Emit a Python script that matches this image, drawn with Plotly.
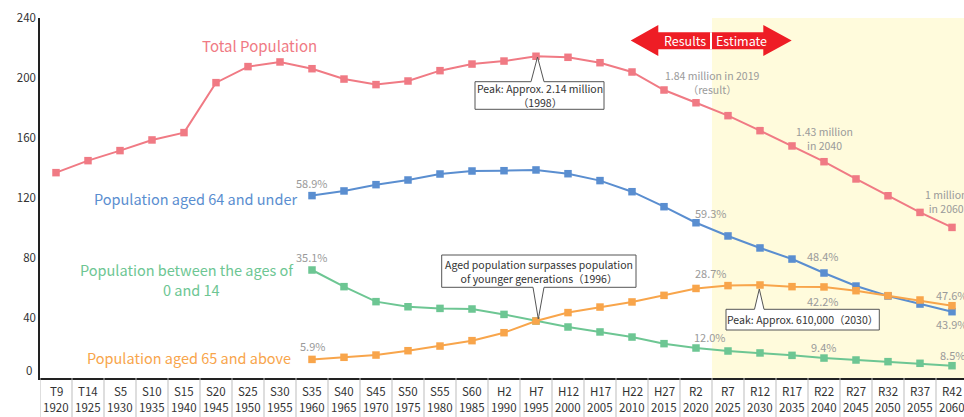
import plotly.graph_objects as go

# ---------------- data ----------------
years = [1920, 1925, 1930, 1935, 1940, 1945, 1950, 1955, 1960, 1965, 1970, 1975, 1980, 1985,
         1990, 1995, 2000, 2005, 2010, 2015, 2020, 2025, 2030, 2035, 2040, 2045, 2050, 2055, 2060]
eras = ["T9", "T14", "S5", "S10", "S15", "S20", "S25", "S30", "S35", "S40", "S45", "S50", "S55", "S60",
        "H2", "H7", "H12", "H17", "H22", "H27", "R2", "R7", "R12", "R17", "R22", "R27", "R32", "R37", "R42"]

total = [136.9, 144.9, 151.6, 158.7, 163.6, 196.9, 207.6, 210.7, 206.2, 199.3, 195.6, 198.0, 204.9, 209.3,
         211.3, 214.5, 213.8, 210.2, 204.0, 192.0, 183.5, 174.9, 164.9, 154.7, 144.2, 132.7, 121.5, 110.4, 100.4]

sub_years = years[8:]  # 1960 onward
under64 = [121.6, 124.7, 128.9, 132.0, 136.0, 138.0, 138.2, 138.7, 136.2, 131.6, 124.2, 114.2, 103.5,
           94.7, 86.7, 79.3, 70.0, 61.3, 54.7, 49.3, 44.2]
age0_14 = [72.0, 60.9, 50.9, 47.5, 46.4, 46.0, 42.4, 38.0, 34.0, 30.7, 27.3, 22.9, 20.0,
           18.0, 16.7, 15.1, 13.3, 12.0, 10.9, 9.8, 8.2]
over65 = [12.4, 13.8, 15.3, 18.2, 21.3, 24.9, 30.2, 38.0, 43.6, 47.3, 50.7, 55.1, 59.7,
          61.6, 62.0, 60.9, 60.7, 58.2, 54.9, 52.0, 48.2]

y_ticks = [0, 40, 80, 120, 160, 200, 240]

# ---------------- styling ----------------
RED = "#F07A84"
BLUE = "#5A8ED0"
GREEN = "#6DC693"
ORANGE = "#F8A54B"
GRAY = "#9A9A9A"
FONT = "Noto Sans CJK JP"

W, H = 964, 417
L, R, T, B = 40, 0, 18, 39
PH = 360.0
X0 = 1917.5
CELL = 32.0
XMAX = X0 + (W - L - R) / CELL * 5


def px2x(px):
    return X0 + (px - L) / CELL * 5


def py2y(py):
    return (378 - py) / 1.5


fig = go.Figure()

for name, xs, ys, col in [("Total Population", years, total, RED),
                          ("Population aged 64 and under", sub_years, under64, BLUE),
                          ("Population between the ages of 0 and 14", sub_years, age0_14, GREEN),
                          ("Population aged 65 and above", sub_years, over65, ORANGE)]:
    fig.add_trace(go.Scatter(x=xs, y=ys, mode="lines+markers", name=name,
                             line=dict(color=col, width=2),
                             marker=dict(symbol="square", size=7.5, color=col),
                             showlegend=False, hoverinfo="x+y"))

shapes = []
# estimate region
shapes.append(dict(type="rect", xref="x", yref="y", x0=2022.5, x1=2075, y0=0, y1=241.3,
                   fillcolor="#FFFBDC", line=dict(width=0), layer="below"))
# cell dividers below the x axis
for i in range(len(years) + 1):
    xv = X0 + i * 5
    shapes.append(dict(type="line", xref="x", yref="paper", x0=xv, x1=xv, y0=-B / PH, y1=0,
                       line=dict(color="#BDBDBD", width=1)))

# Results / Estimate double arrow
ax_l, ax_hl, ax_hr, ax_r = px2x(630.7), px2x(658.3), px2x(763.3), px2x(791.7)
ay_c, ay_ht, ay_hb, ay_st, ay_sb = py2y(40.5), py2y(25), py2y(56), py2y(32.3), py2y(49.3)
arrow_path = (f"M{ax_l},{ay_c} L{ax_hl},{ay_ht} L{ax_hl},{ay_st} L{ax_hr},{ay_st} L{ax_hr},{ay_ht} "
              f"L{ax_r},{ay_c} L{ax_hr},{ay_hb} L{ax_hr},{ay_sb} L{ax_hl},{ay_sb} L{ax_hl},{ay_hb} Z")
shapes.append(dict(type="path", xref="x", yref="y", path=arrow_path, fillcolor="#EE1D25",
                   line=dict(width=0), layer="above"))
shapes.append(dict(type="line", xref="x", yref="y", x0=px2x(711), x1=px2x(711), y0=ay_sb, y1=ay_st,
                   line=dict(color="white", width=2), layer="above"))


def callout(bx0, bx1, by0, by1, pb0, pb1, apx, apy):
    x0, x1 = px2x(bx0), px2x(bx1)
    yt, yb = py2y(by0), py2y(by1)
    p0, p1 = px2x(pb0), px2x(pb1)
    axp, ayp = px2x(apx), py2y(apy)
    if apy < by0:  # pointer on the top edge
        path = (f"M{x0},{yt} L{p0},{yt} L{axp},{ayp} L{p1},{yt} L{x1},{yt} "
                f"L{x1},{yb} L{x0},{yb} Z")
    else:  # pointer on the bottom edge
        path = (f"M{x0},{yt} L{x1},{yt} L{x1},{yb} L{p1},{yb} L{axp},{ayp} "
                f"L{p0},{yb} L{x0},{yb} Z")
    return dict(type="path", xref="x", yref="y", path=path, fillcolor="white",
                line=dict(color="#555555", width=1), layer="above")


shapes.append(callout(475, 604, 81.7, 109.3, 531, 544, 537.5, 57))
shapes.append(callout(441.7, 636, 255, 287.3, 533, 544, 538.3, 319))
shapes.append(callout(726, 879.3, 309.3, 330, 754.5, 764, 759.3, 289))

ann = []


def text(px, py, s, color, size, xanchor="center", align="center"):
    ann.append(dict(x=px2x(px), y=py2y(py), xref="x", yref="y", text=s, showarrow=False,
                    xanchor=xanchor, yanchor="middle", align=align,
                    font=dict(family=FONT, size=size, color=color)))


# series labels
text(259, 45, "Total Population", RED, 15)
text(299, 198, "Population aged 64 and under", BLUE, 14.5, xanchor="right")
text(296, 269.2, "Population between the ages of", GREEN, 14.5, xanchor="right")
text(191, 289.6, "0 and 14", GREEN, 14.5)
text(293, 357, "Population aged 65 and above", ORANGE, 14.5, xanchor="right")

# percentages
for px, py, s in [(312, 183, "58.9%"), (312, 256.7, "35.1%"), (312, 346, "5.9%"),
                  (711, 212.7, "59.3%"), (711, 273, "28.7%"), (710, 337.3, "12.0%"),
                  (823, 256, "48.4%"), (823, 300.7, "42.2%"), (823, 346.7, "9.4%"),
                  (952, 295, "47.6%"), (952, 324.3, "43.9%"), (952, 354.7, "8.5%")]:
    text(px, py, s, GRAY, 11)

# total population notes
text(711.5, 82.5, "1.84 million in 2019<br>（result）", GRAY, 10.5)
text(824, 138, "1.43 million<br>in 2040", GRAY, 10.5)
text(946, 201, "1 million<br>in 2060", GRAY, 10.5)

# callout texts
text(539.5, 95.5, "Peak: Approx. 2.14 million<br>（1998）", "#333333", 10.5)
text(538.9, 271, "Aged population surpasses population<br>of younger generations（1996）", "#333333", 10.5)
text(802.7, 319.7, "Peak: Approx. 610,000（2030）", "#333333", 10.5)

# arrow texts
text(685, 40.5, "Results", "white", 12.5)
text(741, 40.5, "Estimate", "white", 12.5)

# y tick label "0" sits slightly raised in the original
ann.append(dict(x=0, y=(378 - 370) / PH, xref="paper", yref="paper", text=str(y_ticks[0]),
                showarrow=False, xanchor="right", yanchor="middle", xshift=-6,
                font=dict(family=FONT, size=11.5, color="#333333")))

# x-axis two-row table labels
for e, yv in zip(eras, years):
    for s, py in [(e, 390.7), (str(yv), 407.2)]:
        ann.append(dict(x=yv, y=(378 - py) / PH, xref="x", yref="paper", text=s, showarrow=False,
                        xanchor="center", yanchor="middle",
                        font=dict(family=FONT, size=11.5, color="#333333")))

fig.update_layout(
    width=W, height=H,
    margin=dict(l=L, r=R, t=T, b=B, pad=0),
    paper_bgcolor="white", plot_bgcolor="white",
    font=dict(family=FONT, size=12, color="#333333"),
    shapes=shapes, annotations=ann,
    xaxis=dict(range=[X0, XMAX], tickmode="array", tickvals=years, showticklabels=False,
               showline=True, linecolor="#222222", linewidth=1.5, showgrid=False, zeroline=False,
               ticks="", fixedrange=True),
    yaxis=dict(range=[0, 240], tickmode="array", tickvals=y_ticks,
               ticktext=[""] + [str(v) for v in y_ticks[1:]],
               showline=True, linecolor="#222222", linewidth=1.5, showgrid=False, zeroline=False,
               ticks="", tickfont=dict(family=FONT, size=11.5, color="#333333"), fixedrange=True),
)

fig.write_html("out.html", config={"displayModeBar": False},
               post_script="document.body.style.margin='0';document.body.style.overflow='hidden';")
